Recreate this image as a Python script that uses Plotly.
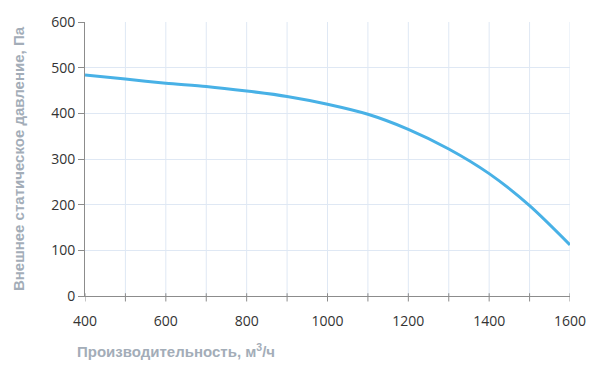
import plotly.graph_objects as go

flow = [400, 500, 600, 700, 800, 900, 1000, 1100, 1200, 1300, 1400, 1500, 1600]
pressure = [484, 475, 466, 459, 449, 437, 420, 398, 365, 322, 268, 198, 112]

x_title = "Производительность, м<sup>3</sup>/ч"
y_title = "Внешнее статическое давление, Па"

title_font = dict(size=15, color="#a3adb8", family="Liberation Sans, Arial, sans-serif", weight="bold")

fig = go.Figure()
fig.add_trace(go.Scatter(x=flow, y=pressure, mode="lines", line=dict(color="#48b1e6", width=3, shape="spline", smoothing=0.8), hoverinfo="skip"))

fig.update_layout(
    width=600, height=369,
    margin=dict(l=85, r=30, t=15, b=73),
    paper_bgcolor="white", plot_bgcolor="white",
    showlegend=False,
    font=dict(family="Open Sans, DejaVu Sans, sans-serif", color="#333333", size=14),
)
fig.update_xaxes(
    range=[400, 1600], tickmode="array", tickvals=[400, 600, 800, 1000, 1200, 1400, 1600],
    showgrid=False, showline=True, linecolor="#8c8c8c", linewidth=1,
    ticks="", ticklabelstandoff=12, tickfont=dict(size=14, color="#333333"),
    zeroline=False,
)
fig.update_yaxes(
    range=[0, 600], dtick=100, showgrid=True, gridcolor="#dfe8f4", gridwidth=1,
    showline=True, linecolor="#8c8c8c", linewidth=1,
    ticks="outside", ticklen=6, tickcolor="#8c8c8c", tickfont=dict(size=14, color="#333333"),
    title=dict(text=y_title, font=title_font, standoff=22),
    zeroline=False,
)
# vertical grid every 100 and x tick marks
for v in range(500, 1601, 100):
    fig.add_shape(type="line", xref="x", yref="y", x0=v, x1=v, y0=0, y1=600,
                  line=dict(color="#dfe8f4", width=1), layer="below")
for v in range(400, 1601, 100):
    fig.add_shape(type="line", xref="x", yref="paper", x0=v, x1=v, y0=0.01, y1=-0.02,
                  line=dict(color="#8c8c8c", width=1))
fig.add_annotation(text=x_title, xref="paper", yref="paper", x=-0.02, y=-0.2, xanchor="left", yanchor="middle",
                   showarrow=False, font=title_font)

fig.write_html("out.html")
